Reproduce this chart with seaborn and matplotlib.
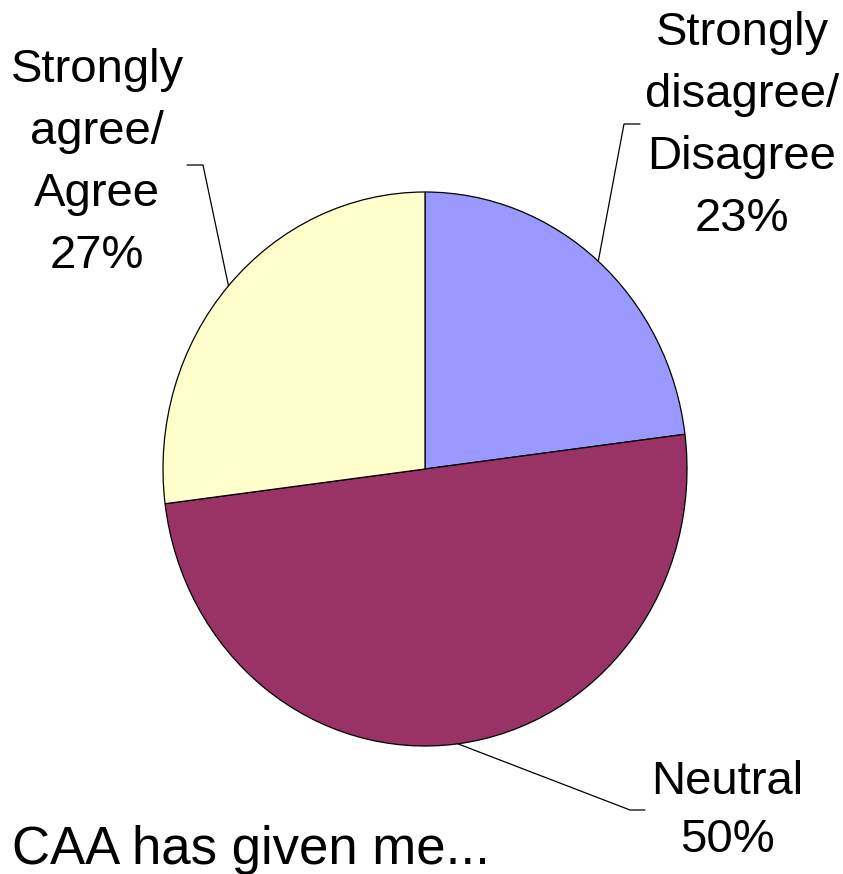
import numpy as np
import matplotlib.pyplot as plt
import seaborn as sns

labels = ["Strongly\ndisagree/\nDisagree", "Neutral", "Strongly\nagree/\nAgree"]
shares = [23, 50, 27]
colors = ["#9999FF", "#993366", "#FFFFCC"]
title = "CAA has given me..."

sns.set_theme(style="white")
plt.rcParams["font.family"] = ["Liberation Sans", "DejaVu Sans"]

W, H = 843, 874
fig = plt.figure(figsize=(W / 100, H / 100), dpi=100)
ax = fig.add_axes([0, 0, 1, 1])

# pie box in pixels (the pie is a bit taller than wide)
cx, cy, rx, ry = 425, H - 469, 262, 277

wedges, _ = ax.pie(shares, colors=colors, startangle=90, counterclock=False,
                   wedgeprops=dict(edgecolor="black", linewidth=0.9))
ax.set_aspect("auto")
ax.set_xlim(-cx / rx, (W - cx) / rx)
ax.set_ylim(-cy / ry, (H - cy) / ry)
ax.axis("off")


def px(x, y):
    # pixel position (top-left origin) -> data coords
    return (x - cx) / rx, (H - y - cy) / ry


# leader line elbows / ends and label spots, in pixels
elbows = [(624, 124), (630, 810), (203, 165)]
ends = [(640, 124), (645, 810), (187, 165)]
spots = [(742, 126), (727, 811), (97, 163)]

for w, lab, val, e, f, s in zip(wedges, labels, shares, elbows, ends, spots):
    mid = np.deg2rad((w.theta1 + w.theta2) / 2)
    x0, y0 = np.cos(mid), np.sin(mid)
    ex, ey = px(*e)
    fx, fy = px(*f)
    ax.plot([x0, ex, fx], [y0, ey, fy], color="black", lw=0.9, clip_on=False)
    tx, ty = px(*s)
    ls = 1.52 if "\n" in lab else 1.42
    ax.text(tx, ty, f"{lab}\n{val}%", ha="center", va="center",
            fontsize=34, linespacing=ls, color="black")

tx, ty = px(12, 864)
ax.text(tx, ty, title, ha="left", va="baseline", fontsize=38, color="black")

fig.savefig("out.png", dpi=100)
